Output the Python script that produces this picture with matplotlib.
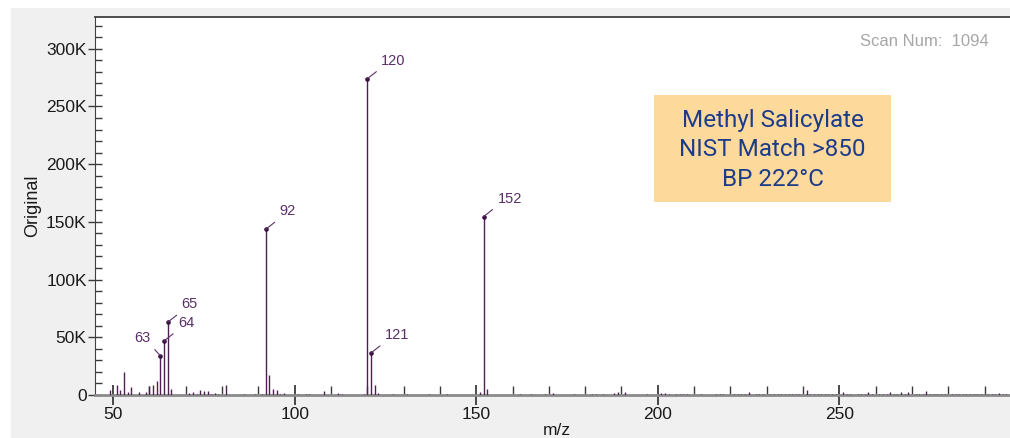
import matplotlib
matplotlib.use("Agg")
import matplotlib.pyplot as plt
from matplotlib.patches import Rectangle
from matplotlib.ticker import MultipleLocator, FuncFormatter

# Mass spectrum, scan 1094 (m/z vs. abundance)
mz = [49, 51, 52, 53, 54, 55, 57, 59, 60, 61, 62, 63, 64, 65, 66,
      71, 72, 73, 74, 75, 76, 77, 78, 79, 81, 86, 89, 91,
      92, 93, 94, 95, 96, 97, 101, 103, 104, 108, 112, 113, 119,
      120, 121, 122, 123, 127, 131, 137, 142, 151, 152, 153,
      162, 165, 169, 171, 177, 182, 183, 185, 188, 189, 191, 197,
      201, 202, 203, 205, 206, 207, 208, 212, 216, 217, 218,
      221, 222, 223, 224, 225, 227, 228, 229,
      231, 232, 233, 234, 235, 236, 237, 238, 239,
      241, 242, 243, 244, 245, 246, 247, 248, 249,
      251, 252, 253, 255, 256, 257, 258, 259,
      261, 262, 263, 264, 265, 266, 267, 268, 269,
      271, 272, 273, 274, 275, 276, 277, 278, 279,
      281, 282, 283, 284, 285, 286, 287, 288, 289,
      290, 291, 292, 293, 294, 295, 296]
abundance = [4000, 8400, 4000, 19500, 2600, 6900, 2600, 2600, 7800, 8400, 11800, 34000, 46800, 63000, 5500,
             1700, 2600, 1200, 4000, 3300, 3300, 1200, 1700, 1200, 8400, 1200, 1200, 1200,
             143500, 17000, 5500, 4000, 1200, 1700, 1200, 1200, 1200, 3300, 1700, 1200, 1200,
             274000, 36400, 8400, 1700, 1200, 1200, 1200, 1200, 2600, 154500, 5500,
             1200, 1200, 1200, 1700, 1200, 1200, 1200, 1200, 1700, 2600, 2600, 1200,
             2000, 2000, 1200, 1200, 1200, 1200, 1200, 1200, 1200, 1200, 1200,
             1200, 1200, 1200, 1200, 2600, 1200, 1200, 1200,
             1200, 1200, 1200, 1200, 1200, 1200, 1200, 1200, 1200,
             4000, 1200, 1200, 1200, 1200, 1200, 1200, 1200, 1200,
             2600, 1200, 1200, 1200, 1200, 1200, 2600, 1200,
             1200, 1200, 1200, 2600, 1200, 1200, 2600, 1200, 2600,
             1200, 1200, 1200, 3300, 1200, 1200, 1200, 1200, 1200,
             1200, 1200, 1200, 1200, 1200, 1200, 1200, 1200, 1200,
             1200, 1200, 1200, 1200, 2000, 1200, 1200]
labeled_mz = [63, 64, 65, 92, 120, 121, 152]

scan_text = "Scan Num:  1094"
info_lines = ["Methyl Salicylate", "NIST Match >850", "BP 222°C"]

W, H = 1010, 438
fig = plt.figure(figsize=(W / 100, H / 100), dpi=100, facecolor="white")
plt.rcParams["font.family"] = ["Liberation Sans", "DejaVu Sans"]


def fx(px):
    return px / W


def fy(py):
    return 1 - py / H


# grey panel behind the plot
panel = Rectangle((fx(11), -0.1), 1.2, fy(8) + 0.1,
                  transform=fig.transFigure, facecolor="#f0f0f0",
                  edgecolor="none", zorder=-10)
fig.add_artist(panel)

ax = fig.add_axes([fx(95), fy(395), fx(1010) - fx(95), fy(17) - fy(395)])
ax.set_zorder(1)
ax.set_facecolor("white")

peak_color = "#4e1f52"
ax.vlines(mz, 0, abundance, colors=peak_color, linewidth=1.0, zorder=3)

ax.set_xlim(45, 297)
ax.set_ylim(0, 327500)

ax.xaxis.set_major_locator(MultipleLocator(50))
ax.xaxis.set_minor_locator(MultipleLocator(10))
ax.yaxis.set_major_locator(MultipleLocator(50000))
ax.yaxis.set_minor_locator(MultipleLocator(10000))
ax.yaxis.set_major_formatter(FuncFormatter(lambda v, p: "0" if v == 0 else f"{int(round(v / 1000))}K"))

ax.tick_params(axis="x", which="major", direction="inout", length=15, width=1.3,
               color="#3a3a3a", labelsize=12.5, labelcolor="#1a1a1a", pad=1)
ax.tick_params(axis="x", which="minor", direction="in", length=6.5, width=1.0,
               color="#3a3a3a")
ax.tick_params(axis="y", which="major", direction="inout", length=10, width=1.0,
               color="#3a3a3a", labelsize=12.5, labelcolor="#1a1a1a", pad=1)
ax.tick_params(axis="y", which="minor", direction="in", length=5, width=1.0,
               color="#3a3a3a")

ax.spines["right"].set_visible(False)
ax.spines["bottom"].set_color("#8a8a8a")
ax.spines["bottom"].set_linewidth(2.0)
ax.spines["left"].set_color("#404040")
ax.spines["top"].set_color("#404040")
ax.spines["top"].set_linewidth(1.3)

ax.set_xlabel("m/z", fontsize=12.5, color="#1a1a1a")
ax.xaxis.set_label_coords((557 - 95) / 915, (395 - 423) / 378)
ax.set_ylabel("Original", fontsize=13, color="#1a1a1a")
ax.yaxis.set_label_coords((41 - 95) / 915, 0.5)

# labelled peaks: marker, leader line and m/z text
label_color = "#5a2e68"
lab_vals = [abundance[mz.index(m)] for m in labeled_mz]
ax.plot(labeled_mz, lab_vals, "o", ms=2.3, color="#3a0f40", zorder=4)
for m, v in zip(labeled_mz, lab_vals):
    if m == 63:
        off, ha, rel = (-10, 18), "right", (1, 0)
    else:
        off, ha, rel = (14, 18), "left", (0, 0)
    ax.annotate(str(m), xy=(m, v), xytext=off, textcoords="offset pixels",
                ha=ha, va="center", fontsize=10.5, color=label_color, zorder=5,
                arrowprops=dict(arrowstyle="-", color=label_color, lw=0.8,
                                shrinkA=2, shrinkB=0, relpos=rel))

fig.text(fx(989), fy(41), scan_text, ha="right", va="center",
         fontsize=12, color="#a6a6a6", zorder=6)

# compound info box
box = Rectangle((fx(654), fy(202)), fx(891) - fx(654), (202 - 95) / H,
                transform=fig.transFigure, facecolor="#fdd99b",
                edgecolor="none", zorder=5)
fig.add_artist(box)
fig.text(fx(772.5), fy(150), "\n".join(info_lines), ha="center", va="center",
         fontsize=17.5, color="#1c3c8a", linespacing=1.38,
         family=["Roboto", "DejaVu Sans"], zorder=6)

fig.savefig("out.png", dpi=100, facecolor="white")
